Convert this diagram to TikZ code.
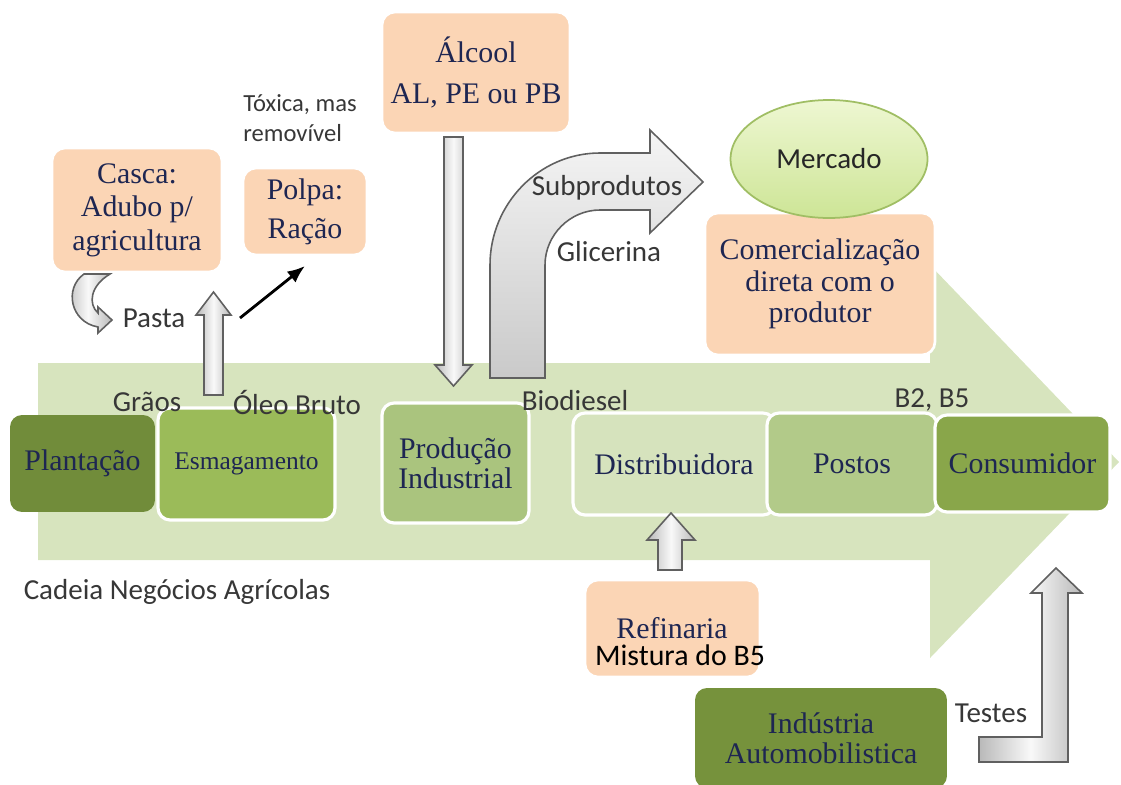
\documentclass[tikz,border=0pt]{standalone}
\usepackage{fontspec}
\setmainfont{Liberation Serif}
\newfontfamily\carl{Carlito}
\usetikzlibrary{shapes.geometric,arrows.meta}
\definecolor{navy}{RGB}{30,38,82}
\definecolor{dgray}{RGB}{55,55,55}
\definecolor{peach}{RGB}{251,213,181}
\definecolor{body}{RGB}{215,228,190}
\definecolor{c1}{RGB}{113,140,58}
\definecolor{c2}{RGB}{155,187,89}
\definecolor{c3}{RGB}{170,196,126}
\definecolor{c4}{RGB}{214,227,189}
\definecolor{c5}{RGB}{178,202,137}
\definecolor{c6}{RGB}{137,166,74}
\definecolor{c7}{RGB}{118,146,60}
\definecolor{mercborder}{RGB}{160,190,100}
\definecolor{merctop}{RGB}{238,247,210}
\definecolor{mercbot}{RGB}{205,229,150}
\begin{document}
\begin{tikzpicture}[x=0.02cm,y=-0.02cm,
  gbox/.style={rectangle, rounded corners=0.24cm, draw=white, line width=1.8pt, inner sep=0pt, align=center, text=navy, font=\fontsize{17}{17}\selectfont},
  pbox/.style={rectangle, rounded corners=0.26cm, fill=peach, draw=white, line width=1.5pt, inner sep=0pt, align=center, text=navy},
  lbl/.style={font=\carl\fontsize{16.5}{18}\selectfont, text=dgray, inner sep=0pt},
  blk/.style={draw=gray!75!black, line width=0.9pt, left color=gray!55, right color=gray!55, middle color=gray!5, line join=miter},
  bentblk/.style={draw=gray!75!black, line width=0.9pt, top color=gray!8, bottom color=gray!42, line join=miter}]
\useasboundingbox (0,0) rectangle (1121,784);
% big chain arrow
\fill[body] (38,363) -- (930,363) -- (930,265) -- (1119,462) -- (930,658) -- (930,560) -- (38,560) -- cycle;
% peach boxes
\node[pbox, minimum width=4.60cm, minimum height=2.84cm, font=\fontsize{17}{18}\selectfont] (com) at (820,284) {Comercialização\\direta com o\\produtor};
\node[pbox, minimum width=3.40cm, minimum height=2.48cm, font=\fontsize{17}{19}\selectfont] (casca) at (137,210) {Casca:\\Adubo p/\\agricultura};
\node[pbox, minimum width=2.48cm, minimum height=1.74cm, font=\fontsize{17}{22}\selectfont] (polpa) at (305,211.5) {Polpa:\\Ração};
\node[pbox, minimum width=3.76cm, minimum height=2.42cm, font=\fontsize{17}{23}\selectfont] (alc) at (476,72.5) {Álcool\\AL, PE ou PB};
\node[pbox, minimum width=3.50cm, minimum height=1.94cm] (ref) at (672.5,628.5) {};
% market
\node[ellipse, draw=mercborder, line width=1pt, top color=merctop, bottom color=mercbot, minimum width=3.94cm, minimum height=2.36cm, inner sep=0pt, font=\carl\fontsize{16.5}{18}\selectfont, text=black!85] (merc) at (829,159) {Mercado};
% green chain boxes
\node[gbox, fill=c1, draw=none, minimum width=2.90cm, minimum height=1.94cm] (plant) at (82.5,463.5) {Plantação};
\node[gbox, fill=c2, minimum width=3.54cm, minimum height=2.24cm, font=\fontsize{14.5}{16}\selectfont] (esm) at (246.5,464) {Esmagamento};
\node[gbox, fill=c3, minimum width=2.94cm, minimum height=2.40cm] (prod) at (455.5,463) {Produção\\Industrial};
\node[gbox, fill=c4, minimum width=4.04cm, minimum height=2.04cm] (dist) at (674,464) {Distribuidora};
\node[gbox, fill=c5, minimum width=3.40cm, minimum height=2.04cm] (post) at (852,464) {Postos};
\node[gbox, fill=c6, minimum width=3.50cm, minimum height=1.94cm] (cons) at (1022.5,463.5) {Consumidor};
\node[gbox, fill=c7, draw=none, minimum width=5.04cm, minimum height=2.00cm] (ind) at (821,738) {Indústria\\Automobilistica};
% block arrows
\draw[blk] (204,395) -- (204,315) -- (196,315) -- (213.5,292) -- (231,315) -- (223,315) -- (223,395) -- cycle;
\draw[blk] (444,137) -- (463,137) -- (463,365) -- (472,365) -- (453.5,386) -- (435,365) -- (444,365) -- cycle;
\draw[bentblk] (490,378) -- (490,265) .. controls (490,204) and (539,153) .. (600,153) -- (650,153) -- (650,130) -- (703,182) -- (650,233) -- (650,210) -- (600,210) .. controls (570,210) and (545,235) .. (545,265) -- (545,378) -- cycle;
\draw[blk] (658,570) -- (658,540) -- (647,540) -- (671,513) -- (695,540) -- (682,540) -- (682,570) -- cycle;
\draw[blk] (979,737) -- (1042,737) -- (1042,593) -- (1031,593) -- (1056,568) -- (1082,593) -- (1068,593) -- (1068,762) -- (979,762) -- cycle;
\draw[blk] (84,274) -- (110,274) .. controls (90,286) and (88,304) .. (98,313) -- (98,307) -- (112,320) -- (98,333) -- (98,327) .. controls (70,322) and (64,288) .. (84,274) -- cycle;
% black arrow to Polpa
\coordinate (pfrom) at (240,318);
\coordinate (pto) at (305,266);
\draw[-{Latex[length=10pt,width=8pt]}, line width=1.6pt] (pfrom) -- (pto);
% labels
\node[lbl, anchor=west, align=left, font=\carl\fontsize{14}{17}\selectfont] (tox) at (243,118) {Tóxica, mas\\removível};
\node[lbl] (pasta) at (154,318) {Pasta};
\node[lbl] (graos) at (147,402) {Grãos};
\node[lbl] (oleo) at (297,402) {Óleo Bruto};
\node[lbl] (bio) at (575,401) {Biodiesel};
\node[lbl] (b2) at (932,400) {B2, B5};
\node[lbl] (sub) at (607,188) {Subprodutos};
\node[lbl] (gli) at (609,252) {Glicerina};
\node[lbl] (cad) at (177,592) {Cadeia Negócios Agrícolas};
\node[lbl] (tes) at (991,713) {Testes};
\node[text=navy, font=\fontsize{17}{18}\selectfont, inner sep=0pt] (refa) at (672,628) {Refinaria};
\node[font=\carl\fontsize{17}{18}\selectfont, inner sep=0pt, text=black] (refb) at (680,655) {Mistura do B5};
\end{tikzpicture}
\end{document}
